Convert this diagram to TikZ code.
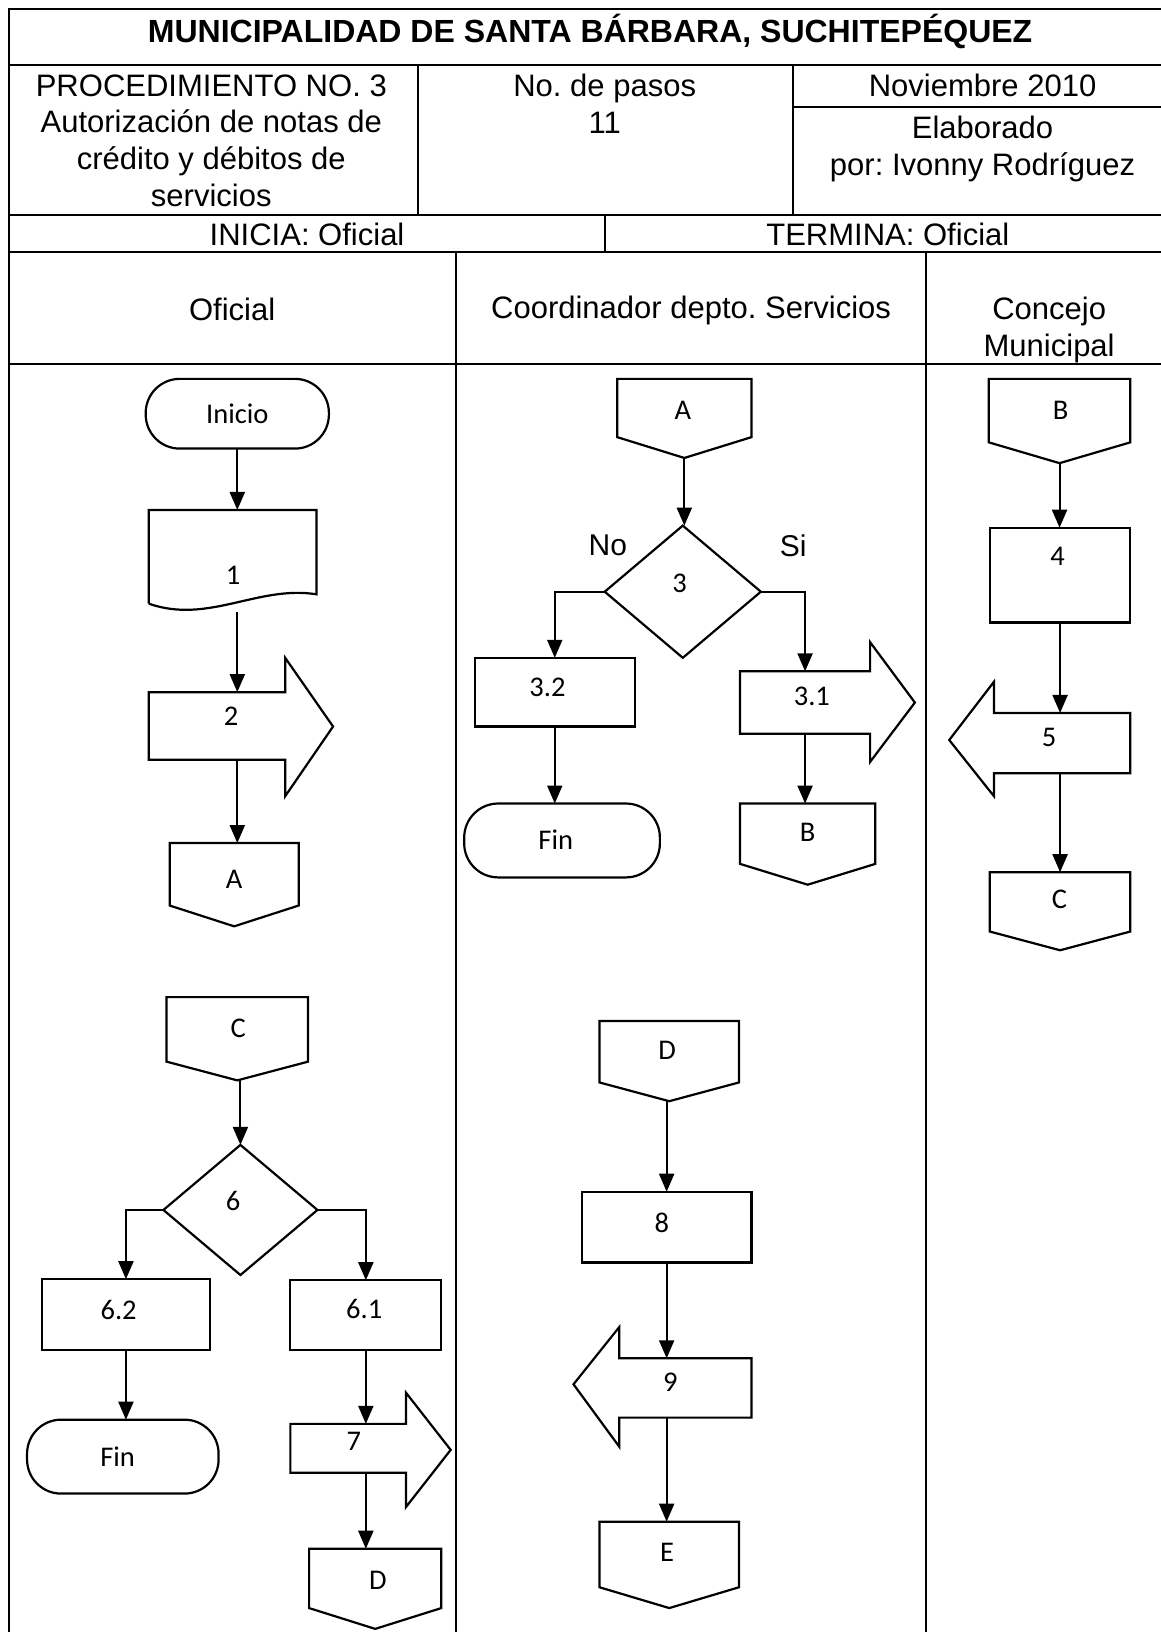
\documentclass[tikz,border=0pt]{standalone}
\usepackage{fontspec}
\setmainfont{Liberation Sans}
\newfontfamily\shapefont{Carlito}
\usetikzlibrary{arrows.meta,calc,fit}

% off-page connector: name, left, top, right, y where the sides end, y of the tip
\newcommand{\offpg}[6]{%
  \node[box, fit={(#2,#3)(#4,#6)}] (#1) {};
  \draw[shp] (#2,#3) -- (#4,#3) -- (#4,#5) -- (#1.south) -- (#2,#5) -- cycle;}
% block arrow: name, tail x, body top, head x, body bottom, head top, head bottom, tip x, tip y
\newcommand{\blockarrow}[9]{%
  \node[box, fit={(#2,#3)(#4,#5)}] (#1) {};
  \draw[shp] (#2,#3) -- (#4,#3) -- (#4,#6) -- (#8,#9) -- (#4,#7) -- (#4,#5) -- (#2,#5) -- cycle;}

\begin{document}
\frenchspacing
\begin{tikzpicture}[x=1.0404pt,y=-1.0404pt,
  frame/.style={line width=2pt},
  box/.style={inner sep=0pt, outer sep=0pt},
  shp/.style={draw, line width=2.2pt, line join=miter},
  term/.style={shp, box, rounded corners=34pt},
  conn/.style={line width=2.1pt, -{Triangle[length=18pt,width=15pt]}},
  hdr/.style={font=\fontsize{31}{36.7}\selectfont, align=center, inner sep=0pt},
  ttl/.style={font=\bfseries\fontsize{32}{38}\selectfont, inner sep=0pt},
  lbl/.style={font=\shapefont\fontsize{28.5}{33}\selectfont, inner sep=0pt},
  yn/.style={font=\fontsize{30}{36}\selectfont, inner sep=0pt}]

\useasboundingbox (0,0) rectangle (1115,1568);
\fill[white] (0,0) rectangle (1115,1568);

% ---------- header table ----------
\draw[frame] (9,1600) -- (9,9) -- (1130,9);
\draw[frame] (9,62) -- (1130,62);
\draw[frame] (9,207) -- (1130,207);
\draw[frame] (9,242) -- (1130,242);
\draw[frame] (9,350) -- (1130,350);
\draw[frame] (402,62) -- (402,207);
\draw[frame] (762,62) -- (762,207);
\draw[frame] (762,103) -- (1130,103);
\draw[frame] (581,207) -- (581,242);
\draw[frame] (438,242) -- (438,1600);
\draw[frame] (890,242) -- (890,1600);

\node[ttl] (title) at (567,30) {MUNICIPALIDAD DE SANTA BÁRBARA, SUCHITEPÉQUEZ};
\node[hdr] (proc) at (203,135) {PROCEDIMIENTO NO. 3\\Autorización de notas de\\crédito y débitos de\\servicios};
\node[hdr] (pasos) at (581,100) {No. de pasos\\11};
\node[hdr] (fecha) at (944,82) {Noviembre 2010};
\node[hdr] (autor) at (944,143) {Elaborado\\por: Ivonny Rodríguez};
\node[hdr] (inicia) at (295,225) {INICIA: Oficial};
\node[hdr] (termina) at (853,225) {TERMINA: Oficial};
\node[hdr] (lane1) at (223,297) {Oficial};
\node[hdr] (lane2) at (664,298) {Coordinador depto. Servicios};
\node[hdr] (lane3) at (1008,317) {Concejo\\Municipal};

% ---------- Oficial, first part ----------
\node[term, fit={(140,364)(316,431)}] (ini) {};
\node[lbl] (tini) at (228,398) {Inicio};

\node[box, fit={(143,490)(304,588)}] (d1) {};
\draw[shp] (143,580) -- (143,490) -- (304,490) -- (304,571)
  .. controls (248,562) and (200,600) .. (143,580);
\node[lbl] (t1) at (224,553) {1};

\blockarrow{a2}{143}{665}{274}{730}{632}{765}{320}{698}
\node[lbl] (t2) at (222,688) {2};

\offpg{oA1}{163}{810}{287}{870}{890}
\node[lbl] (tA1) at (225,845) {A};

\draw[conn] (ini.south) -- (ini.south |- d1.north);
\draw[conn] (ini.south |- d1.south) -- (ini.south |- a2.north);
\draw[conn] (ini.south |- a2.south) -- (ini.south |- oA1.north);

% ---------- Coordinador, first part ----------
\offpg{oA2}{593}{364}{722}{420}{440}
\node[lbl] (tA2) at (656,394) {A};

\node[box, fit={(581,505)(731,632)}] (dm3) {};
\draw[shp] (dm3.north) -- (dm3.east) -- (dm3.south) -- (dm3.west) -- cycle;
\node[lbl] (t3) at (653,560) {3};
\node[yn] (tno) at (584,524) {No};
\node[yn] (tsi) at (762,524) {Si};

\node[shp, box, fit={(456,632)(610,698)}] (b32) {};
\node[lbl] (t32) at (526,660) {3.2};

\node[term, fit={(446,772)(634,843)}] (fin1) {};
\node[lbl] (tfin1) at (534,807) {Fin};

\blockarrow{a31}{711}{645}{836}{705}{617}{732}{879}{675}
\node[lbl] (t31) at (780,669) {3.1};

\offpg{oB1}{711}{772}{841}{830}{850}
\node[lbl] (tB1) at (776,800) {B};

\draw[conn] (oA2.south) -- (oA2.south |- dm3.north);
\draw[conn] (dm3.west) -| (b32.north);
\draw[conn] (dm3.east) -| (a31.north);
\draw[conn] (b32.south) -- (b32.south |- fin1.north);
\draw[conn] (a31.south) -- (a31.south |- oB1.north);

% ---------- Concejo Municipal ----------
\offpg{oB2}{950}{364}{1086}{425}{445}
\node[lbl] (tB2) at (1019,394) {B};

\node[shp, box, fit={(951,507)(1086,598)}] (p4) {};
\node[lbl] (t4) at (1016,535) {4};

\blockarrow{a5}{1086}{685}{955}{743}{655}{765}{912}{711}
\node[lbl] (t5) at (1008,709) {5};

\offpg{oC1}{951}{838}{1086}{895}{913}
\node[lbl] (tC1) at (1018,864) {C};

\draw[conn] (oB2.south) -- (oB2.south |- p4.north);
\draw[conn] (p4.south) -- (p4.south |- a5.north);
\draw[conn] (p4.south |- a5.south) -- (p4.south |- oC1.north);

% ---------- Oficial, second part ----------
\offpg{oC2}{160}{958}{296}{1020}{1038}
\node[lbl] (tC2) at (229,988) {C};

\node[box, fit={(157,1100)(305,1225)}] (dm6) {};
\draw[shp] (dm6.north) -- (dm6.east) -- (dm6.south) -- (dm6.west) -- cycle;
\node[lbl] (t6) at (224,1154) {6};

\node[shp, box, fit={(40,1229)(202,1297)}] (b62) {};
\node[lbl] (t62) at (114,1259) {6.2};

\node[term, fit={(26,1364)(210,1435)}] (fin2) {};
\node[lbl] (tfin2) at (113,1400) {Fin};

\node[shp, box, fit={(279,1230)(424,1297)}] (b61) {};
\node[lbl] (t61) at (350,1258) {6.1};

\blockarrow{a7}{279}{1368}{390}{1415}{1338}{1448}{433}{1393}
\node[lbl] (t7) at (340,1385) {7};

\offpg{oD1}{297}{1488}{424}{1545}{1565}
\node[lbl] (tD1) at (363,1518) {D};

\draw[conn] (dm6.north |- oC2.south) -- (dm6.north);
\draw[conn] (dm6.west) -| (b62.north);
\draw[conn] (dm6.east) -| (b61.north);
\draw[conn] (b62.south) -- (b62.south |- fin2.north);
\draw[conn] (b61.south) -- (b61.south |- a7.north);
\draw[conn] (b61.south |- a7.south) -- (b61.south |- oD1.north);

% ---------- Coordinador, second part ----------
\offpg{oD2}{576}{981}{710}{1040}{1058}
\node[lbl] (tD2) at (641,1009) {D};

\node[shp, box, fit={(559,1145)(722,1213)}] (p8) {};
\node[lbl] (t8) at (636,1175) {8};

\blockarrow{a9}{722}{1305}{595}{1362}{1275}{1390}{551}{1330}
\node[lbl] (t9) at (644,1328) {9};

\offpg{oE}{576}{1462}{710}{1525}{1545}
\node[lbl] (tE) at (641,1491) {E};

\draw[conn] (p8.north |- oD2.south) -- (p8.north);
\draw[conn] (p8.south) -- (p8.south |- a9.north);
\draw[conn] (p8.south |- a9.south) -- (p8.south |- oE.north);

\end{tikzpicture}
\end{document}
